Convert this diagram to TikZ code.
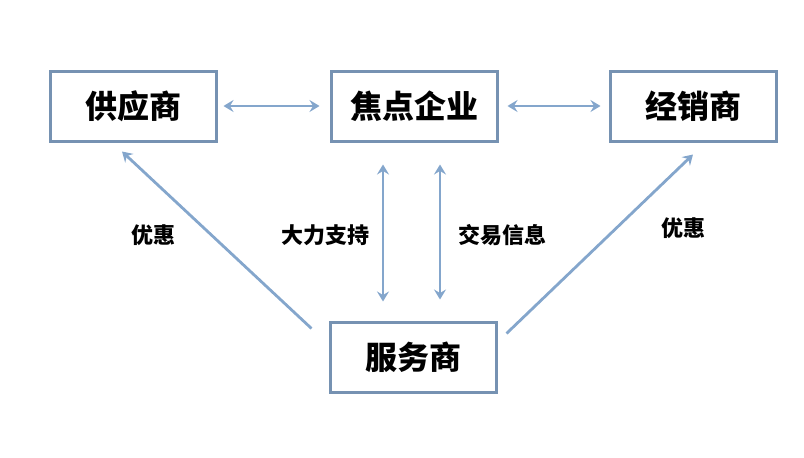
\documentclass[tikz,border=0pt]{standalone}
\usepackage{fontspec}
\setmainfont{Noto Sans CJK SC}
\usetikzlibrary{arrows.meta}

\definecolor{boxblue}{RGB}{118,146,178}
\definecolor{arrowblue}{RGB}{132,166,204}

\tikzset{
  party/.style={draw=boxblue, line width=3pt, minimum width=166pt,
    minimum height=70pt, inner sep=0pt, font=\fontsize{32}{32}\selectfont\bfseries},
  arr/.style={draw=arrowblue, line width=2.8pt, -{Stealth[length=10pt,width=12pt,inset=3.5pt]}},
  darr/.style={arr, {Stealth[length=10pt,width=12pt,inset=3.5pt]}-{Stealth[length=10pt,width=12pt,inset=3.5pt]}},
  tag/.style={font=\fontsize{22}{22}\selectfont\bfseries}
}

\begin{document}
\begin{tikzpicture}[x=1pt, y=-1pt]
    \useasboundingbox (0, 0) rectangle (804, 458);

    \node[party] (sup) at (133, 106) {供应商};
    \node[party] (core) at (414, 106) {焦点企业};
    \node[party] (dist) at (693, 106) {经销商};
    \node[party] (serv) at (413, 357) {服务商};

    % horizontal links
    \draw[darr, shorten <=6pt, shorten >=10pt] (sup) -- (core);
    \draw[darr, shorten <=9pt, shorten >=8pt] (core) -- (dist);

    % vertical links
    \draw[darr] ([shift={(-31,22)}]core.south) -- ([shift={(-30,-19)}]serv.north);
    \draw[darr] ([shift={(26,22)}]core.south) -- ([shift={(27,-21)}]serv.north);

    % diagonal links
    \draw[arr] ([shift={(-17,8)}]serv.north west) -- ([shift={(-11,9)}]sup.south);
    \draw[arr] ([shift={(9,13)}]serv.north east) -- ([shift={(0,12)}]dist.south);

    \node[tag] (l1) at (153, 235) {优惠};
    \node[tag] (l2) at (325, 235) {大力支持};
    \node[tag] (l3) at (502, 235) {交易信息};
    \node[tag] (l4) at (683, 228) {优惠};
\end{tikzpicture}
\end{document}
